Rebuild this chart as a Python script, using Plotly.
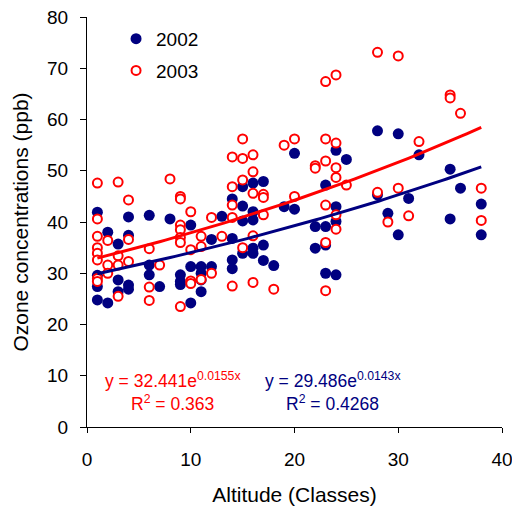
import plotly.graph_objects as go
import numpy as np

# 2002 measurements (altitude class, ozone ppb)
x2002 = [1, 1, 1, 1, 2, 2, 3, 3, 3, 4, 4, 4, 4, 6, 6, 6, 7, 8, 9, 9, 9,
         10, 10, 10, 11, 11, 11, 11, 12, 12, 13, 14, 14, 14, 14,
         15, 15, 15, 15, 16, 16, 16, 16, 16, 17, 17, 17, 18, 19, 20, 20,
         22, 22, 23, 23, 23, 23, 24, 24, 24, 24, 25, 28, 28, 29, 30, 30,
         31, 32, 35, 35, 36, 38, 38]
y2002 = [41.9, 29.6, 27.4, 24.8, 38, 24.2, 35.7, 28.7, 26.4, 41, 37.4, 27.7, 26.9,
         41.3, 31.6, 29.7, 27.4, 40.6, 29.7, 28.4, 27.8,
         39.4, 31.3, 24.2, 31.3, 30, 28.7, 26.4, 36.6, 31.3, 41.1, 44.5, 36.8, 32.6, 30.9,
         46.9, 43.1, 40.2, 33.9, 47.6, 42, 40.4, 34.9, 33.9, 47.9, 35.5, 32.5, 31.5, 43,
         53.4, 42.5, 39.1, 34.9, 47.2, 39.1, 35.5, 30, 54, 43, 40.1, 29.7, 52.2,
         57.8, 45.3, 41.7, 57.2, 37.5, 44.6, 53.1, 50.3, 40.6, 46.6, 43.5, 37.5]

# 2003 measurements
x2003 = [1, 1, 1, 1, 1, 1, 1, 1, 2, 2, 2, 3, 3, 3, 3, 4, 4, 4, 6, 6, 6, 7, 8,
         9, 9, 9, 9, 9, 9, 9, 10, 10, 10, 10, 11, 11, 11, 12, 12, 13,
         14, 14, 14, 14, 14, 15, 15, 15, 15, 16, 16, 16, 16, 16, 17, 17, 17, 18, 19,
         20, 20, 22, 22, 23, 23, 23, 23, 23, 23, 24, 24, 24, 24, 24, 24, 25,
         28, 28, 29, 30, 30, 31, 32, 35, 35, 36, 38, 38]
y2003 = [47.6, 40.6, 37.2, 35, 33.9, 32.6, 29, 28.4, 36.4, 31.6, 30,
         47.8, 33.4, 31.6, 25.5, 44.3, 36.6, 32.3, 34.8, 27.3, 24.7, 31.6, 48.4,
         45, 44.5, 39.4, 38.5, 37, 36, 23.5, 42, 34.6, 28.5, 28, 37.2, 35.2, 28.8,
         40.9, 30, 37.2, 52.7, 46.9, 43.3, 40.9, 27.5, 56.2, 52.4, 48.2, 35,
         53.1, 49.8, 45.6, 37.3, 28.2, 45.4, 44.8, 41.4, 26.9, 55, 56.2, 45,
         51, 50.5, 67.4, 56.2, 51.9, 43.3, 36, 26.6, 68.7, 55.4, 50.6, 48.7, 41.4, 38.6,
         47.2, 73.1, 45.8, 40, 72.4, 46.6, 41.2, 55.7, 64.8, 64.2, 61.2, 46.6, 40.3]

# exponential trendlines as printed on the chart
fit2002 = (29.486, 0.0143, "0.4268")
fit2003 = (32.441, 0.0155, "0.363")

NAVY = "#000080"
RED = "#FF0000"
FONT = "Liberation Sans, Arial, sans-serif"

fig = go.Figure()

fig.add_trace(go.Scatter(x=x2002, y=y2002, mode="markers", name="2002",
                         legendgroup="a",
                         marker=dict(color=NAVY, size=11, line=dict(width=0))))
fig.add_trace(go.Scatter(x=x2003, y=y2003, mode="markers", name="2003",
                         legendgroup="b",
                         marker=dict(color="white", size=9,
                                     line=dict(color=RED, width=2))))

for (a, b, r2), xs, col in [(fit2002, x2002, NAVY), (fit2003, x2003, RED)]:
    xx = np.linspace(min(xs), max(xs), 80)
    fig.add_trace(go.Scatter(x=xx, y=a * np.exp(b * xx), mode="lines",
                             line=dict(color=col, width=3), showlegend=False,
                             hoverinfo="skip"))

# equation labels
fig.add_annotation(x=8.25, y=9.2, xref="x", yref="y", showarrow=False,
                   text="y = 32.441e<sup>0.0155x</sup>",
                   font=dict(color=RED, size=17.5))
fig.add_annotation(x=8.25, y=4.7, xref="x", yref="y", showarrow=False,
                   text="R<sup>2</sup> = " + fit2003[2],
                   font=dict(color=RED, size=17.5))
fig.add_annotation(x=23.7, y=9.2, xref="x", yref="y", showarrow=False,
                   text="y = 29.486e<sup>0.0143x</sup>",
                   font=dict(color=NAVY, size=17.5))
fig.add_annotation(x=23.7, y=4.7, xref="x", yref="y", showarrow=False,
                   text="R<sup>2</sup> = " + fit2002[2],
                   font=dict(color=NAVY, size=17.5))

# page body has an 8px margin, so the figure is sized to fit the window
fig.update_layout(
    width=512, height=498,
    margin=dict(l=79, r=18, t=9, b=79),
    plot_bgcolor="white", paper_bgcolor="white",
    font=dict(family=FONT, color="black", size=19),
    legend=dict(x=0.07, y=0.993, xanchor="left", yanchor="top",
                bgcolor="rgba(0,0,0,0)", tracegroupgap=4,
                font=dict(size=19)),
)
fig.update_xaxes(range=[0, 40], dtick=10, showgrid=False, zeroline=False,
                 showline=True, linecolor="black", linewidth=1,
                 ticks="outside", ticklen=5, tickcolor="black",
                 ticklabelstandoff=10, automargin=False,
                 ticklabeloverflow="allow",
                 title=dict(text="Altitude (Classes)", font=dict(size=21),
                            standoff=18))
fig.update_yaxes(range=[0, 80], dtick=10, showgrid=False, zeroline=False,
                 showline=True, linecolor="black", linewidth=1,
                 ticks="outside", ticklen=6, tickcolor="black",
                 ticklabelstandoff=8, automargin=False,
                 ticklabeloverflow="allow",
                 title=dict(text="Ozone concentrations (ppb)", font=dict(size=21),
                            standoff=12))

fig.write_html("out.html")
